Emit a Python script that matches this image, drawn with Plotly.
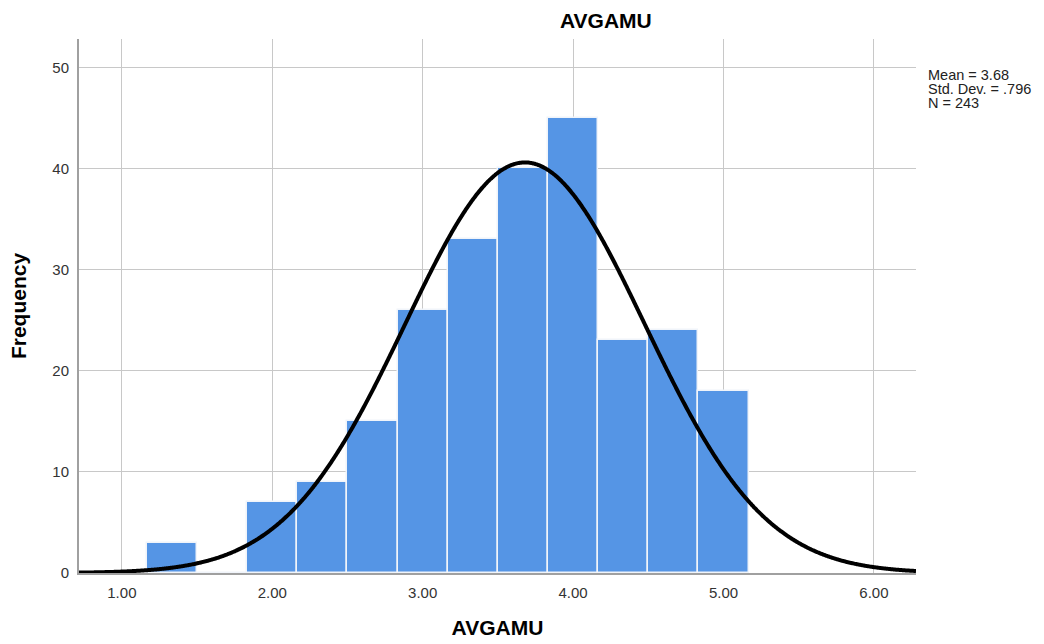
import numpy as np
import plotly.graph_objects as go

# Data
bin_left_edges = [1.1667, 1.5, 1.8333, 2.1667, 2.5, 2.8333, 3.1667, 3.5, 3.8333, 4.1667, 4.5, 4.8333]
bin_width = 1/3
frequencies = [3, 0, 7, 9, 15, 26, 33, 40, 45, 23, 24, 18]
mean_val = 3.68
std_val = 0.796
n_val = 243
x_ticks = [1, 2, 3, 4, 5, 6]
x_tick_labels = ["1.00", "2.00", "3.00", "4.00", "5.00", "6.00"]
y_ticks = [0, 10, 20, 30, 40, 50]
stats_lines = ["Mean = 3.68", "Std. Dev. = .796", "N = 243"]

centers = [e + bin_width / 2 for e in bin_left_edges]

xr = [0.715, 6.28]
xc = np.linspace(xr[0], xr[1], 800)
yc = n_val * bin_width * np.exp(-0.5 * ((xc - mean_val) / std_val) ** 2) / (std_val * np.sqrt(2 * np.pi))

L, R, T, B = 79, 128, 39, 71
W, H = 1044, 644
PW, PH = W - L - R, H - T - B


def px_x(px):
    return (px - L) / PW


def px_y(py):
    return 1 - (py - T) / PH


fig = go.Figure()
fig.add_trace(go.Bar(
    x=centers, y=frequencies, width=bin_width,
    marker=dict(color="#5595E5", line=dict(color="#F0F4FA", width=1.5)),
    hoverinfo="x+y", showlegend=False,
))
fig.add_trace(go.Scatter(
    x=xc, y=yc, mode="lines", line=dict(color="black", width=4, shape="spline"),
    showlegend=False, hoverinfo="skip",
))

annotations = [
    dict(text="<b>AVGAMU</b>", x=px_x(606), y=px_y(21), xref="paper", yref="paper", showarrow=False,
         xanchor="center", yanchor="middle", font=dict(size=21, color="black")),
]
for i, line in enumerate(stats_lines):
    annotations.append(dict(text=line, x=px_x(926), y=px_y(75 + 14 * i), xref="paper", yref="paper",
                            showarrow=False, xanchor="left", yanchor="middle", align="left",
                            font=dict(size=14.5, color="#222")))

fig.update_layout(
    width=W, height=H,
    margin=dict(l=L, r=R, t=T, b=B, autoexpand=False),
    plot_bgcolor="white", paper_bgcolor="white",
    font=dict(family="Liberation Sans, Arial, sans-serif", color="#222"),
    bargap=0,
    annotations=annotations,
    xaxis=dict(
        range=xr, tickvals=x_ticks, ticktext=x_tick_labels, automargin=False,
        showgrid=True, gridcolor="#C8C8C8", gridwidth=1,
        showline=True, linecolor="#A0A0A0", linewidth=1.5,
        ticks="", tickfont=dict(size=15, color="#333"), ticklabelstandoff=5,
        title=dict(text="<b>AVGAMU</b>", font=dict(size=21, color="black"), standoff=21),
        zeroline=False,
    ),
    yaxis=dict(
        range=[0, 52.8], tickvals=y_ticks, automargin=False,
        showgrid=True, gridcolor="#C8C8C8", gridwidth=1,
        showline=True, linecolor="#A0A0A0", linewidth=2,
        ticks="", tickfont=dict(size=15, color="#333"), ticklabelstandoff=5,
        title=dict(text="<b>Frequency</b>", font=dict(size=21, color="black"), standoff=20),
        zeroline=False,
    ),
)

fig.write_html("out.html")
